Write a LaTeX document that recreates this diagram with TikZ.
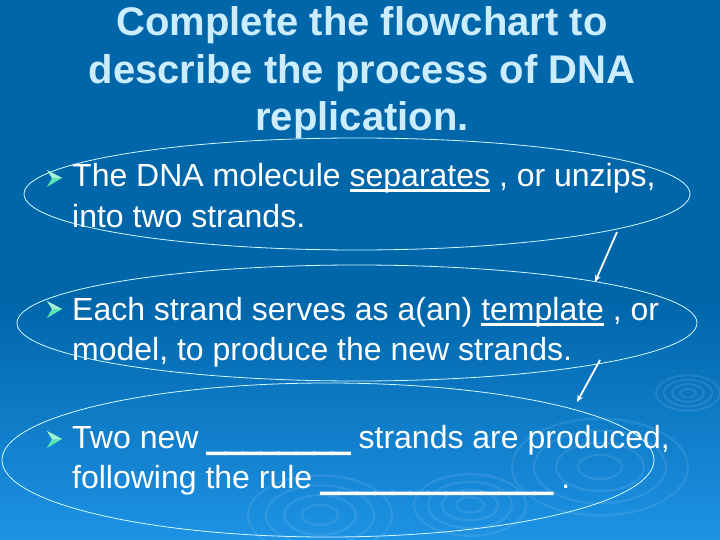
\documentclass[tikz,border=0pt]{standalone}
\usepackage{fontspec}
\setmainfont{Liberation Sans}
\newfontfamily\blankfont[FakeBold=5]{Liberation Sans}
\usetikzlibrary{arrows.meta,shapes.geometric}
\definecolor{bgtop}{RGB}{0,102,170}
\definecolor{bgbot}{RGB}{30,146,228}
\definecolor{titlec}{RGB}{204,236,255}
\definecolor{ringc}{RGB}{210,250,255}
\definecolor{bulc}{RGB}{90,230,180}
\newcommand\ulword[1]{\setbox0\hbox{#1}\rlap{\rule[-5.5pt]{\wd0}{3pt}}\box0{}}
\newcommand\blankline[1]{{\blankfont#1}}
\tikzset{
  bularrow/.pic={
    \fill[bulc] (8,0) -- (-7,-8) -- (-2,0) -- (-7,9) -- cycle;
    \fill[bulc!55!white] (8,0) -- (-7,-8) -- (-2,0) -- cycle;
  },
  ripples/.pic={
    \foreach \r in {1,2,3,4} {\draw[white, opacity=0.09, line width=2.2pt] (0,0) ellipse ({\r*\ripr} and {\r*\ripr*0.55});}
  }
}
\newcommand\ripr{10}
\begin{document}
\begin{tikzpicture}[x=1pt,y=-1pt,
  titleline/.style={font=\fontsize{40}{48}\selectfont\bfseries, text=titlec, anchor=base, inner sep=0pt},
  bodyline/.style={font=\fontsize{32}{40}\selectfont, text=white, anchor=base west, inner sep=0pt},
  oval/.style={ellipse, draw=ringc, line width=0.8pt, inner sep=0pt, outer sep=0pt},
  flowarrow/.style={draw=white, line width=1.8pt, -{Stealth[length=7pt,width=6pt]}}]
\useasboundingbox (0,0) rectangle (720,540);
\fill[bgtop] (0,0) rectangle (720,540);
\shade[top color=bgtop, bottom color=bgbot] (0,300) rectangle (720,540);
% background ripples
\renewcommand\ripr{8}\pic at (688,393) {ripples};
\renewcommand\ripr{22}\pic at (600,467) {ripples};
\renewcommand\ripr{18}\pic at (320,515) {ripples};
\renewcommand\ripr{14}\pic at (470,505) {ripples};
% title
\node[titleline] (h1) at (362,36) {Complete the flowchart to};
\node[titleline] (h2) at (362,84) {describe the process of DNA};
\node[titleline] (h3) at (362,131) {replication.};
% ovals
\node[oval, minimum width=666pt, minimum height=112pt] (e1) at (357,194) {};
\node[oval, minimum width=680pt, minimum height=116pt] (e2) at (357,323) {};
\node[oval, minimum width=652pt, minimum height=154pt] (e3) at (328,460) {};
% bullets
\pic at (54,178) {bularrow};
\pic at (54,309) {bularrow};
\pic at (54,439) {bularrow};
% text
\node[bodyline] (t1a) at (72,187) {The DNA molecule \ulword{separates} , or unzips,};
\node[bodyline] (t1b) at (72,227) {into two strands.};
\node[bodyline] (t2a) at (72,320) {Each strand serves as a(an) \ulword{template} , or};
\node[bodyline] (t2b) at (72,360) {model, to produce the new strands.};
\node[bodyline] (t3a) at (72,448) {Two new \blankline{\_\_\_\_\_\_\_\_} strands are produced,};
\node[bodyline] (t3b) at (72,488) {following the rule \blankline{\_\_\_\_\_\_\_\_\_\_\_\_\_} .};
% connectors
\draw[flowarrow] ([xshift=260pt,yshift=-38pt]e1.center) -- ([xshift=238pt,yshift=41pt]e2.center);
\draw[flowarrow] ([xshift=243pt,yshift=-37pt]e2.center) -- ([xshift=249pt,yshift=58pt]e3.center);
\end{tikzpicture}
\end{document}
